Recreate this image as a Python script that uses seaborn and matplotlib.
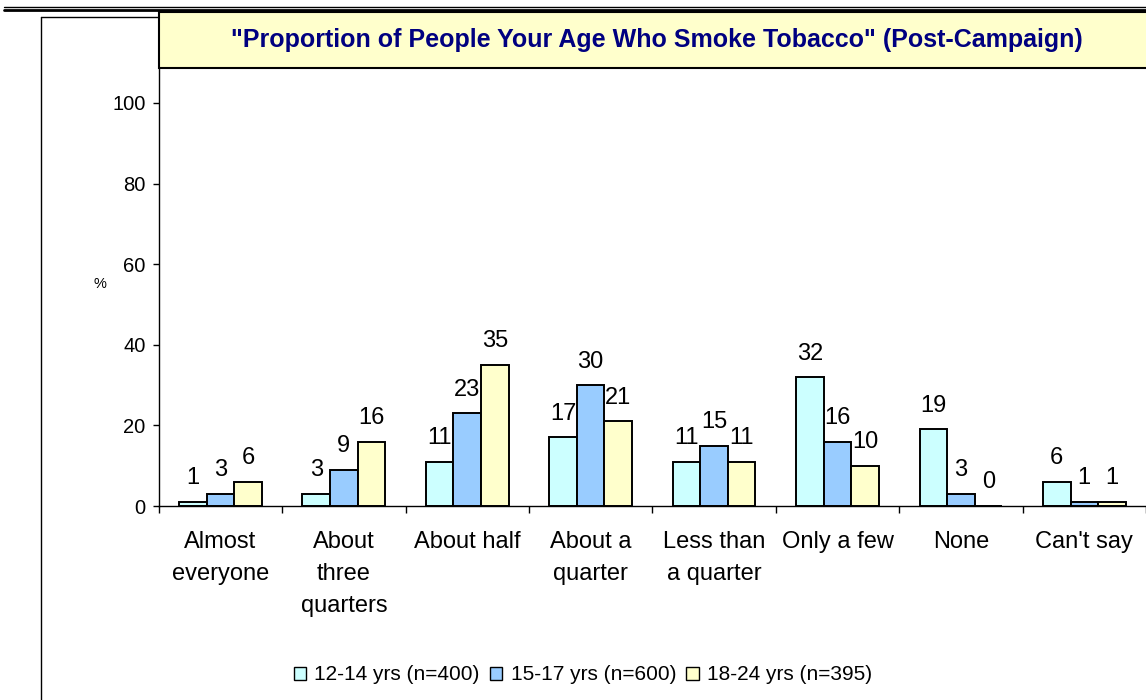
import matplotlib
matplotlib.use("Agg")
import matplotlib.pyplot as plt
import numpy as np
import pandas as pd
import seaborn as sns
from matplotlib.patches import Rectangle
from matplotlib.lines import Line2D

# data
answers = ["Almost\neveryone", "About\nthree\nquarters", "About half", "About a\nquarter",
           "Less than\na quarter", "Only a few", "None", "Can't say"]
groups = ["12-14 yrs (n=400)", "15-17 yrs (n=600)", "18-24 yrs (n=395)"]
age_12_14 = [1, 3, 11, 17, 11, 32, 19, 6]
age_15_17 = [3, 9, 23, 30, 15, 16, 3, 1]
age_18_24 = [6, 16, 35, 21, 11, 10, 0, 1]
colors = ["#CCFFFF", "#99CCFF", "#FFFFCC"]

df = pd.DataFrame({
    "answer": answers * 3,
    "group": [groups[0]] * 8 + [groups[1]] * 8 + [groups[2]] * 8,
    "pct": age_12_14 + age_15_17 + age_18_24,
})

sns.set_theme(style="white")
plt.rcParams["font.family"] = ["Liberation Sans", "DejaVu Sans"]
plt.rcParams.update({"text.color": "black", "axes.labelcolor": "black",
                     "xtick.color": "black", "ytick.color": "black"})

W, H = 1146, 700
fig = plt.figure(figsize=(W / 100, H / 100), dpi=100)
ax = fig.add_axes([158.7 / W, (H - 506) / H, (W - 158.7) / W, (506 - 68.3) / H])

sns.barplot(data=df, x="answer", y="pct", hue="group", order=answers, hue_order=groups,
            palette=colors, saturation=1, width=0.67, gap=0, edgecolor="black",
            linewidth=1.4, ax=ax)

for cont in ax.containers:
    ax.bar_label(cont, fmt="%d", padding=9, fontsize=17, color="black")

ax.set_ylim(0, 108.6)
ax.set_xlim(-0.5, 7.443)
ax.set_yticks(np.arange(0, 101, 20))
ax.tick_params(axis="y", direction="out", length=4.5, width=1, color="black",
               labelcolor="black", labelsize=14.5, pad=5, left=True)

ax.set_xticks(np.arange(-0.5, 8, 1))
ax.set_xticklabels([])
ax.set_xticks(np.arange(8), minor=True)
ax.set_xticklabels(answers, minor=True, fontsize=17, linespacing=1.6)
ax.tick_params(axis="x", which="major", direction="out", length=5, width=1,
               color="black", bottom=True)
ax.tick_params(axis="x", which="minor", length=0, pad=18, labelcolor="black")

ax.set_xlabel("")
ax.set_ylabel("%", rotation=0, fontsize=10.5, ha="center", va="center", color="black")
ax.yaxis.set_label_coords(-0.0595, 0.507)

for s in ["top", "right"]:
    ax.spines[s].set_visible(False)
for s in ["left", "bottom"]:
    ax.spines[s].set_color("black")
    ax.spines[s].set_linewidth(1)

# legend below the plot
handles, labels = ax.get_legend_handles_labels()
for h in handles:
    h.set_edgecolor("black")
    h.set_linewidth(1)
ax.legend(handles, labels, loc="center", bbox_to_anchor=(583 / W, 25 / H),
          bbox_transform=fig.transFigure, ncol=3, frameon=False, fontsize=15,
          labelcolor="black", handlelength=0.58, handleheight=0.58,
          handletextpad=0.4, columnspacing=0.5)

# title box
fig.add_artist(Rectangle((158.7 / W, (H - 68.3) / H), 0.9, 56.6 / H, transform=fig.transFigure,
                         facecolor="#FFFFCC", edgecolor="black", linewidth=1.5, zorder=5))
fig.text(657 / W, (H - 40) / H,
         '"Proportion of People Your Age Who Smoke Tobacco" (Post-Campaign)',
         ha="center", va="center", fontsize=18, fontweight="bold", color="#000080", zorder=6)

# outer frame lines
fig.add_artist(Line2D([40.7 / W, 40.7 / W], [0, (H - 16.7) / H], color="black", linewidth=1))
fig.add_artist(Line2D([40.7 / W, 158.7 / W], [(H - 16.7) / H] * 2, color="black", linewidth=1))
fig.add_artist(Line2D([4 / W, 1], [(H - 6.7) / H] * 2, color="black", linewidth=1))
fig.add_artist(Line2D([4 / W, 1], [(H - 9.8) / H] * 2, color="black", linewidth=2))

fig.savefig("out.png", dpi=100)
